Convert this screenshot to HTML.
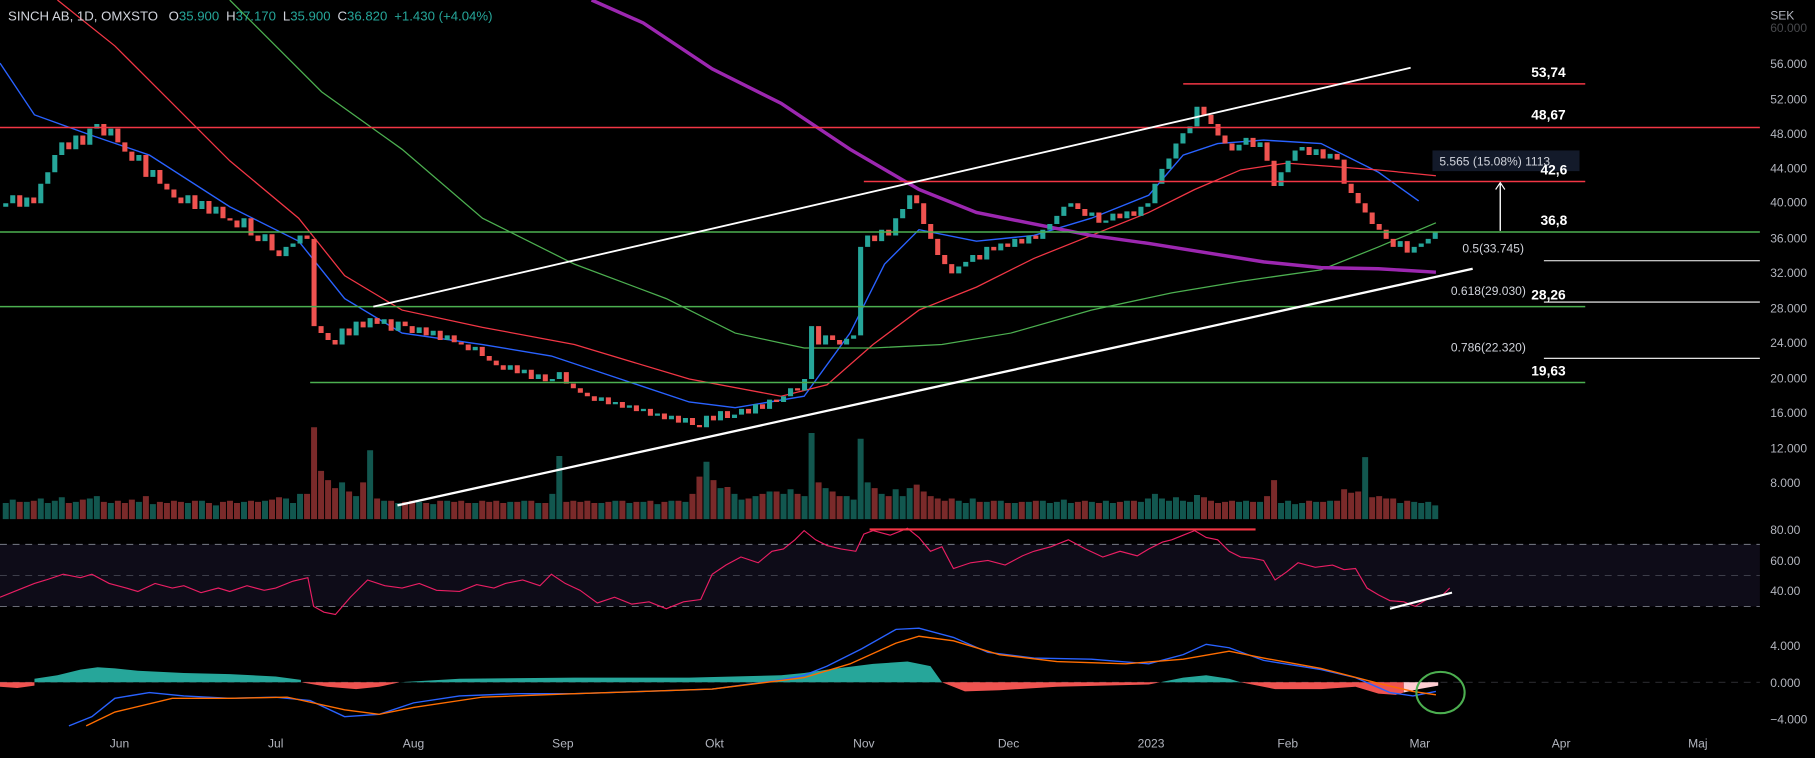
<!DOCTYPE html>
<html><head><meta charset="utf-8">
<style>
html,body{margin:0;padding:0;background:#000;}
svg{display:block;}
text{font-family:"Liberation Sans",sans-serif;}
</style></head>
<body>
<svg width="1815" height="758" viewBox="0 0 1580 660" preserveAspectRatio="none" xmlns="http://www.w3.org/2000/svg">
<rect x="0" y="0" width="1580" height="660" fill="#000"/>
<rect x="0" y="474" width="1532" height="54" fill="#0e0c18"/>
<line x1="0" y1="474" x2="1532" y2="474" stroke="#787b86" stroke-dasharray="6,5" stroke-width="0.8"/>
<line x1="0" y1="501" x2="1532" y2="501" stroke="#787b86" stroke-dasharray="6,5" stroke-width="0.6" opacity="0.6"/>
<line x1="0" y1="528" x2="1532" y2="528" stroke="#787b86" stroke-dasharray="6,5" stroke-width="0.8"/>
<line x1="0" y1="594" x2="1532" y2="594" stroke="#787b86" stroke-dasharray="6,5" stroke-width="0.5" opacity="0.6"/>

<!-- MAs -->
<polyline fill="none" stroke="#2962ff" stroke-width="1.2" points="0,55 30,100 80,118 130,135 200,180 260,210 300,260 350,290 420,300 480,310 540,330 600,350 640,355 700,345 740,290 770,230 800,200 850,210 900,205 950,190 1000,170 1030,135 1060,125 1100,122 1150,125 1200,150 1235,175"/>
<polyline fill="none" stroke="#f23645" stroke-width="1.1" points="50,0 100,40 150,90 200,140 260,190 300,240 350,270 420,285 500,300 600,330 680,345 720,335 760,300 800,270 850,250 900,225 950,205 1000,185 1040,165 1080,148 1120,142 1160,145 1200,148 1250,153"/>
<polyline fill="none" stroke="#4caf50" stroke-width="1.1" points="200,0 280,80 350,130 420,190 500,230 580,260 640,290 700,303 760,303 820,300 880,290 950,270 1020,255 1080,245 1150,235 1200,215 1250,194"/>
<polyline fill="none" stroke="#9c27b0" stroke-width="3" points="515,0 560,20 620,60 680,90 740,130 800,165 850,185 900,195 950,205 1000,212 1050,220 1100,228 1150,233 1200,234 1250,237"/>

<!-- volume -->
<path fill="none" stroke="#12574f" stroke-width="5.2" d="M5 452V438M11.1 452V435M23.3 452V437M35.5 452V434M41.6 452V438M47.7 452V436M53.8 452V433M66 452V437M78.2 452V434M84.3 452V432M96.5 452V438M120.9 452V437M133.1 452V439M163.6 452V438M175.8 452V436M188 452V440M212.4 452V437M230.7 452V436M249 452V434M255.1 452V438M261.2 452V430M297.8 452V420M310 452V432M322.2 452V392M334.4 452V436M346.6 452V438M364.9 452V437M377.1 452V439M389.3 452V436M413.7 452V438M444.2 452V437M456.4 452V436M468.6 452V438M480.8 452V430M486.9 452V397M523.5 452V438M535.7 452V436M547.9 452V438M560.1 452V437M572.3 452V439M584.5 452V436M596.7 452V437M615 452V402M627.2 452V425M639.4 452V430M645.5 452V435M657.7 452V432M669.9 452V428M682.1 452V430M688.2 452V426M700.4 452V432M706.5 452V377M718.7 452V425M737 452V432M743.1 452V435M749.2 452V382M755.3 452V420M767.5 452V430M779.7 452V426M785.8 452V432M791.9 452V425M834.6 452V436M840.7 452V438M846.8 452V434M859 452V437M871.2 452V436M883.4 452V438M895.6 452V437M907.8 452V436M913.9 452V438M920 452V437M926.1 452V435M932.2 452V438M950.5 452V437M962.7 452V436M968.8 452V438M981 452V436M993.2 452V437M999.3 452V434M1005.4 452V430M1011.5 452V434M1017.6 452V436M1023.7 452V433M1029.8 452V436M1035.9 452V437M1042 452V431M1078.6 452V437M1084.7 452V436M1096.9 452V437M1115.2 452V438M1121.3 452V436M1127.4 452V439M1133.5 452V438M1145.7 452V437M1157.9 452V436M1188.4 452V398M1218.9 452V438M1231.1 452V437M1237.2 452V438M1243.3 452V437M1249.4 452V440"/>
<path fill="none" stroke="#7a2a2a" stroke-width="5.2" d="M17.2 452V437M29.4 452V436M59.9 452V438M72.1 452V435M90.4 452V437M102.6 452V436M108.7 452V438M114.8 452V435M127 452V432M139.2 452V437M145.3 452V438M151.4 452V436M157.5 452V437M169.7 452V436M181.9 452V438M194.1 452V437M200.2 452V436M206.3 452V438M218.5 452V436M224.6 452V437M236.8 452V435M242.9 452V433M267.3 452V430M273.4 452V372M279.5 452V410M285.6 452V418M291.7 452V425M303.9 452V428M316.1 452V420M328.3 452V434M340.5 452V436M352.7 452V437M358.8 452V436M371 452V438M383.2 452V436M395.4 452V437M401.5 452V436M407.6 452V438M419.8 452V436M425.9 452V437M432 452V436M438.1 452V438M450.3 452V437M462.5 452V436M474.7 452V438M493 452V437M499.1 452V436M505.2 452V437M511.3 452V436M517.4 452V438M529.6 452V437M541.8 452V436M554 452V437M566.2 452V436M578.4 452V437M590.6 452V436M602.8 452V430M608.9 452V415M621.1 452V418M633.3 452V424M651.6 452V434M663.8 452V430M676 452V428M694.3 452V430M712.6 452V420M724.8 452V428M730.9 452V432M761.4 452V425M773.6 452V432M798 452V422M804.1 452V428M810.2 452V432M816.3 452V434M822.4 452V436M828.5 452V434M852.9 452V437M865.1 452V436M877.3 452V438M889.5 452V437M901.7 452V436M938.3 452V437M944.4 452V436M956.6 452V438M974.9 452V437M987.1 452V436M1048.1 452V433M1054.2 452V436M1060.3 452V438M1066.4 452V437M1072.5 452V436M1090.8 452V437M1103 452V432M1109.1 452V418M1139.6 452V436M1151.8 452V437M1164 452V436M1170.1 452V426M1176.2 452V429M1182.3 452V428M1194.5 452V433M1200.6 452V432M1206.7 452V434M1212.8 452V434M1225 452V436"/>

<!-- candles -->
<path fill="none" stroke="#26a69a" stroke-width="4.4" d="M5 177V180M11.1 170V177M23.3 172V180M35.5 160V177M41.6 150V160M47.7 135V150M53.8 124V135M66 118V130M78.2 112V126M84.3 108V112M96.5 112V118M120.9 135V140M133.1 148V154M163.6 170V177M175.8 175V182M188 180V186M212.4 190V198M230.7 204V210M249 215V223M255.1 212V215M261.2 205V212M297.8 286V300M310 280V292M322.2 277V285M334.4 278V282M346.6 280V288M364.9 285V290M377.1 288V292M389.3 292V296M413.7 302V305M444.2 318V322M456.4 322V325M468.6 326V330M480.8 330V332M486.9 324V330M523.5 346V349M535.7 350V352M547.9 353V355M560.1 356V358M572.3 360V362M584.5 362V365M596.7 364V368M615 362V372M627.2 358V366M639.4 361V364M645.5 356V361M657.7 352V360M669.9 348V356M682.1 345V350M688.2 338V345M700.4 330V340M706.5 284V330M718.7 292V300M737 295V300M743.1 292V295M749.2 215V292M755.3 205V215M767.5 200V210M779.7 190V205M785.8 182V190M791.9 170V182M834.6 232V238M840.7 228V232M846.8 222V228M859 215V226M871.2 212V218M883.4 208V215M895.6 205V212M907.8 200V208M913.9 195V200M920 188V195M926.1 180V188M932.2 177V180M950.5 185V188M962.7 192V194M968.8 186V192M981 184V190M993.2 180V188M999.3 177V180M1005.4 160V177M1011.5 147V160M1017.6 138V147M1023.7 125V138M1029.8 116V125M1035.9 110V116M1042 93V110M1078.6 126V131M1084.7 120V126M1096.9 124V128M1115.2 150V162M1121.3 140V150M1127.4 131V140M1133.5 128V131M1145.7 130V135M1157.9 134V138M1218.9 210V215M1231.1 215V220M1237.2 212V215M1243.3 208V212M1249.4 202V208"/>
<path fill="none" stroke="#ef5350" stroke-width="4.4" d="M17.2 170V180M29.4 172V177M59.9 124V130M72.1 118V126M90.4 108V118M102.6 112V124M108.7 124V132M114.8 132V140M127 135V154M139.2 148V160M145.3 160V165M151.4 165V172M157.5 172V177M169.7 170V182M181.9 175V186M194.1 180V190M200.2 190V192M206.3 192V198M218.5 190V205M224.6 205V210M236.8 204V218M242.9 218V223M267.3 205V208M273.4 208V284M279.5 284V290M285.6 290V296M291.7 296V300M303.9 286V292M316.1 280V285M328.3 277V282M340.5 278V288M352.7 280V284M358.8 284V290M371 285V292M383.2 288V296M395.4 292V298M401.5 298V300M407.6 300V305M419.8 302V310M425.9 310V314M432 314V318M438.1 318V322M450.3 318V325M462.5 322V330M474.7 326V332M493 324V334M499.1 334V338M505.2 338V342M511.3 342V345M517.4 345V349M529.6 346V352M541.8 350V355M554 353V358M566.2 356V362M578.4 360V365M590.6 362V368M602.8 364V370M608.9 370V372M621.1 362V366M633.3 358V364M651.6 356V360M663.8 352V356M676 348V350M694.3 338V340M712.6 284V300M724.8 292V296M730.9 296V300M761.4 205V210M773.6 200V205M798 170V177M804.1 177V195M810.2 195V208M816.3 208V222M822.4 222V230M828.5 230V238M852.9 222V226M865.1 215V218M877.3 212V215M889.5 208V212M901.7 205V208M938.3 177V182M944.4 182V188M956.6 185V194M974.9 186V190M987.1 184V188M1048.1 93V100M1054.2 100V108M1060.3 108V118M1066.4 118V125M1072.5 125V131M1090.8 120V128M1103 124V140M1109.1 140V162M1139.6 128V135M1151.8 130V138M1164 134V139M1170.1 139V160M1176.2 160V168M1182.3 168V177M1188.4 177V185M1194.5 185V195M1200.6 195V200M1206.7 200V208M1212.8 208V215M1225 210V220"/>

<!-- RSI -->
<polyline fill="none" stroke="#e91e63" stroke-width="1" points="0,520 15,514 30,508 40,505 55,500 70,503 80,500 95,508 110,512 120,515 135,508 150,512 160,510 175,516 190,512 200,515 215,510 230,514 240,512 255,506 268,503 273,528 282,533 292,535 305,520 320,505 335,510 350,512 365,508 380,514 400,515 415,509 430,512 440,508 455,505 470,510 480,500 492,508 505,514 520,525 535,520 550,526 565,524 580,530 595,524 610,522 620,500 632,492 645,485 660,490 672,480 682,478 692,470 700,462 710,470 720,475 732,478 745,480 752,465 760,462 775,466 790,460 800,468 810,480 820,476 830,495 845,490 860,488 875,492 890,484 900,480 915,476 930,470 945,478 960,485 975,480 990,484 1000,478 1012,472 1020,470 1030,466 1040,462 1050,468 1060,470 1070,480 1080,485 1090,486 1100,488 1110,505 1120,498 1130,490 1145,494 1160,492 1170,496 1180,495 1190,512 1200,518 1210,523 1222,524 1232,528 1242,522 1250,520 1256,518 1262,512"/>

<!-- MACD histogram -->
<polygon fill="#26a69a" points="30,594 30,591 50,588 70,583 85,581 100,582 120,584 160,586 200,587 240,589 262,592 262,594"/>
<polygon fill="#ef5350" points="0,594 0,598 15,599 30,597 30,594"/>
<polygon fill="#ef5350" points="262,594 285,598 310,600 330,598 348,594"/>
<polygon fill="#26a69a" points="348,594 400,591 500,590 600,590 680,588 700,586 720,583 760,578 790,576 810,580 820,594"/>
<polygon fill="#ef5350" points="820,594 840,602 870,601 920,598 1000,596 1010,594"/>
<polygon fill="#26a69a" points="1010,594 1030,590 1050,588 1070,591 1080,594"/>
<polygon fill="#ef5350" points="1080,594 1110,600 1150,600 1180,598 1200,604 1215,605 1222,603 1222,594"/>
<polygon fill="#ffcdd2" points="1222,594 1222,603 1235,600 1252,597 1252,594"/>
<polyline fill="none" stroke="#2962ff" stroke-width="1.2" points="60,632 80,624 100,608 130,603 160,606 200,608 240,607 270,610 300,624 330,622 360,612 400,606 450,604 500,604 560,602 620,600 680,592 700,588 720,580 750,565 780,548 800,547 830,555 860,568 900,573 950,574 1000,578 1030,570 1050,561 1070,564 1100,575 1150,583 1180,590 1210,603 1230,606 1250,602"/>
<polyline fill="none" stroke="#ff6d00" stroke-width="1.2" points="75,632 100,620 150,608 200,608 250,607 300,618 330,622 360,616 420,607 500,604 620,600 700,590 740,578 780,560 800,554 830,558 870,570 920,576 980,578 1030,574 1070,567 1100,573 1150,582 1200,595 1230,602 1250,605"/>

<!-- horizontal levels -->
<line x1="1030" y1="73" x2="1380" y2="73" stroke="#f23645" stroke-width="1.3"/>
<line x1="0" y1="111" x2="1532" y2="111" stroke="#f23645" stroke-width="1.3"/>
<line x1="752" y1="158" x2="1380" y2="158" stroke="#f23645" stroke-width="1.3"/>
<line x1="0" y1="202" x2="1532" y2="202" stroke="#4caf50" stroke-width="1.3"/>
<line x1="0" y1="267" x2="1380" y2="267" stroke="#4caf50" stroke-width="1.3"/>
<line x1="270" y1="333" x2="1380" y2="333" stroke="#4caf50" stroke-width="1.3"/>
<line x1="1344" y1="227" x2="1532" y2="227" stroke="#fff" stroke-width="0.9"/>
<line x1="1344" y1="263" x2="1532" y2="263" stroke="#fff" stroke-width="0.9"/>
<line x1="1344" y1="312" x2="1532" y2="312" stroke="#fff" stroke-width="0.9"/>
<line x1="325" y1="267" x2="1228" y2="59" stroke="#fff" stroke-width="1.6"/>
<line x1="346" y1="440" x2="1282" y2="234" stroke="#fff" stroke-width="2"/>
<line x1="757" y1="461" x2="1093" y2="461" stroke="#f23645" stroke-width="1.8"/>
<line x1="1210" y1="530" x2="1264" y2="516" stroke="#fff" stroke-width="1.8"/>
<ellipse cx="1254" cy="603" rx="21" ry="18" fill="none" stroke="#4caf50" stroke-width="1.8"/>
<rect x="1247" y="131" width="128" height="18" fill="#131a2a"/>
<text x="1253" y="144" font-size="10.5" fill="#d1d4dc">5.565 (15.08%) 1113</text>
<line x1="1306" y1="201" x2="1306" y2="160" stroke="#fff" stroke-width="1.2"/>
<polyline points="1302,165 1306,159 1310,165" fill="none" stroke="#fff" stroke-width="1"/>
<g font-size="12" font-weight="bold" fill="#fff">
<text x="1333" y="67">53,74</text>
<text x="1333" y="104">48,67</text>
<text x="1341" y="152">42,6</text>
<text x="1341" y="196">36,8</text>
<text x="1333" y="261">28,26</text>
<text x="1333" y="327">19,63</text>
</g>
<g font-size="10.5" fill="#d1d4dc">
<text x="1273" y="220">0.5(33.745)</text>
<text x="1263" y="257">0.618(29.030)</text>
<text x="1263" y="306">0.786(22.320)</text>
</g>
<g font-size="10.5" fill="#b2b5be">
<text x="1541" y="17">SEK</text>
<text x="1541" y="28" opacity="0.4">60.000</text>
<text x="1541" y="59">56.000</text>
<text x="1541" y="90">52.000</text>
<text x="1541" y="120">48.000</text>
<text x="1541" y="150">44.000</text>
<text x="1541" y="180">40.000</text>
<text x="1541" y="211">36.000</text>
<text x="1541" y="241">32.000</text>
<text x="1541" y="272">28.000</text>
<text x="1541" y="302">24.000</text>
<text x="1541" y="333">20.000</text>
<text x="1541" y="363">16.000</text>
<text x="1541" y="394">12.000</text>
<text x="1541" y="424">8.000</text>
<text x="1541" y="465">80.00</text>
<text x="1541" y="492">60.00</text>
<text x="1541" y="518">40.00</text>
<text x="1541" y="566">4.000</text>
<text x="1541" y="598">0.000</text>
<text x="1541" y="630">−4.000</text>
</g>
<g font-size="10.5" fill="#b2b5be" text-anchor="middle">
<text x="104" y="651">Jun</text><text x="240" y="651">Jul</text><text x="360" y="651">Aug</text>
<text x="490" y="651">Sep</text><text x="622" y="651">Okt</text><text x="752" y="651">Nov</text>
<text x="878" y="651">Dec</text><text x="1002" y="651">2023</text><text x="1121" y="651">Feb</text>
<text x="1236" y="651">Mar</text><text x="1359" y="651">Apr</text><text x="1478" y="651">Maj</text>
</g>
<text x="7" y="18" font-size="11.5" fill="#d1d4dc">SINCH AB, 1D, OMXSTO <tspan dx="6">O</tspan><tspan fill="#26a69a">35.900</tspan><tspan dx="6">H</tspan><tspan fill="#26a69a">37.170</tspan><tspan dx="6">L</tspan><tspan fill="#26a69a">35.900</tspan><tspan dx="6">C</tspan><tspan fill="#26a69a">36.820</tspan><tspan dx="6" fill="#26a69a">+1.430 (+4.04%)</tspan></text>
</svg>
</body></html>
